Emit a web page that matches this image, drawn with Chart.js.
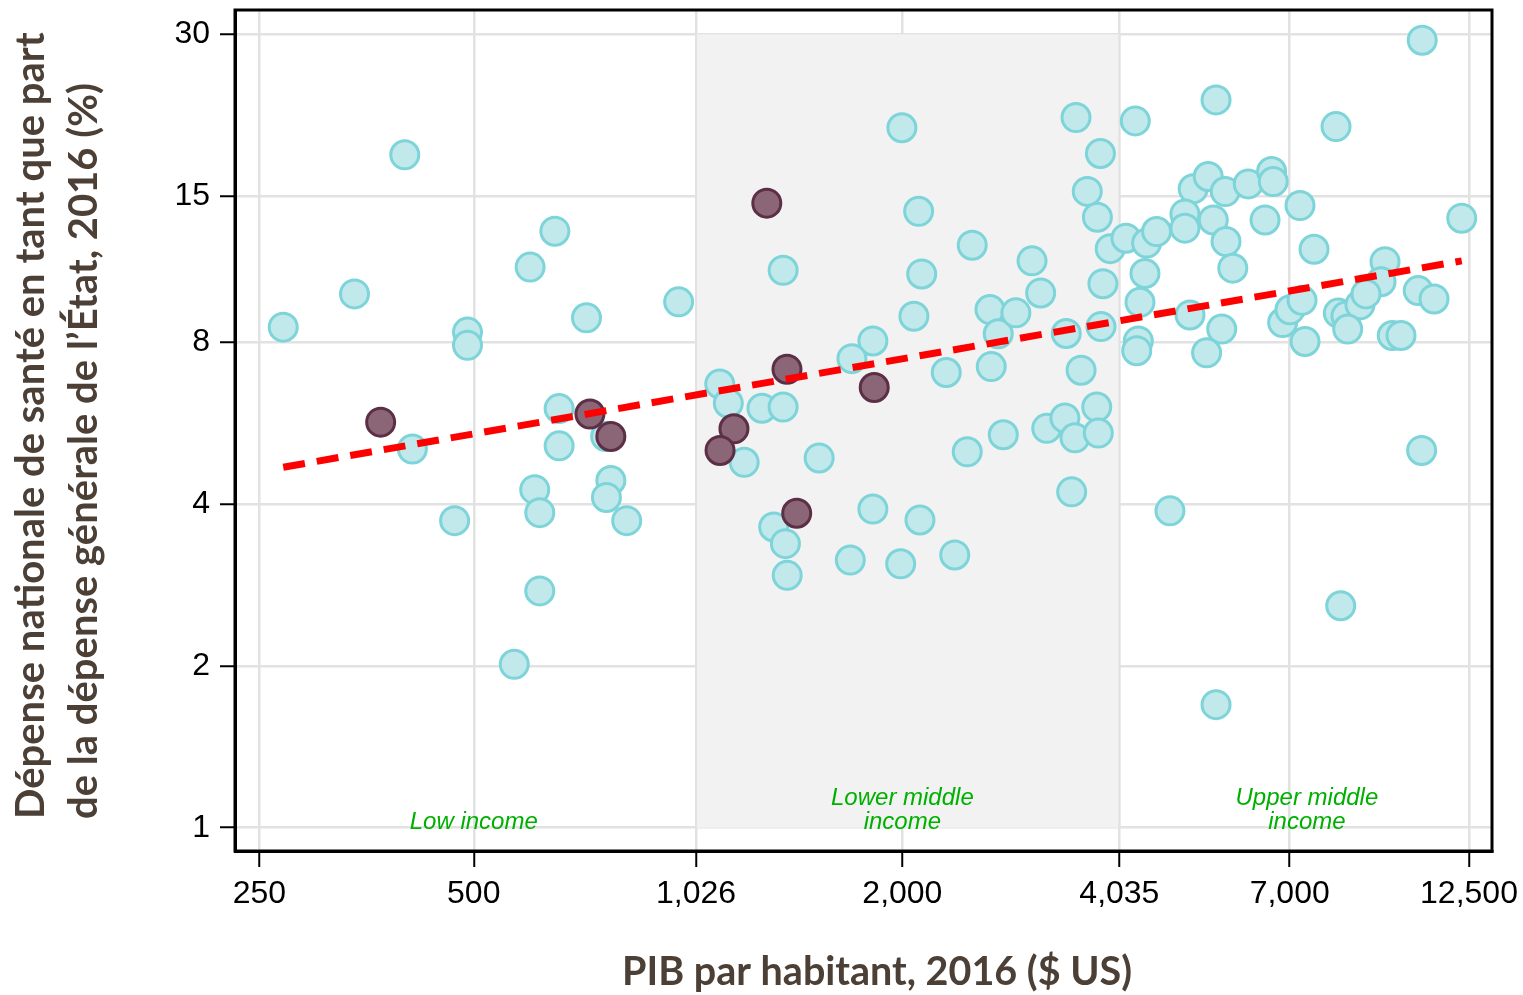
<!DOCTYPE html>
<html>
<head>
<meta charset="utf-8">
<script src="https://cdn.jsdelivr.net/npm/chart.js@4.4.1/dist/chart.umd.min.js"></script>
<style>
  html, body { margin: 0; padding: 0; background: #fff; }
</style>
</head>
<body>
<canvas id="myChart" width="1523" height="995"></canvas>
<script>
// GDP per capita (US$) and health share of government spending (%)
const cyanGdp = [270, 340, 400, 490, 490, 600, 650, 720, 970, 410, 659, 659, 766, 779, 768, 609, 619, 470, 820, 619, 570,
  1997, 2108, 2507, 1360, 2129, 2076, 2655, 2727, 2887, 1818, 1699, 2305, 2666, 1108, 1139, 1270, 1360, 1199, 1528, 2467,
  2772, 1319, 1370, 1378, 1818, 2117, 1690, 1989, 2369,
  3507, 4248, 3795, 3637, 3758, 3042, 3917, 4122, 4407, 4551, 4383, 3128, 3826, 4313, 3398, 3802, 4290, 4268, 3565, 3190,
  3383, 3495, 3750, 3769, 3458,
  5516, 5123, 5378, 5683, 6122, 6602, 6637, 7237, 4988, 4988, 5467, 6463, 5697, 5823, 5070, 5618, 5350, 6842, 7006, 7285,
  7355, 7573, 8131, 10745, 12210, 9527, 9405, 10607, 11164, 8191, 8397, 8786, 8958, 8444, 9754, 10033, 10725, 4752, 8255, 5516];
const cyanShare = [8.55, 9.86, 17.9, 8.37, 7.91, 11.06, 12.9, 8.9, 9.53, 5.07, 6.03, 5.14, 5.35, 4.43, 4.12, 4.26, 3.86, 3.73, 3.73, 2.76, 2.015,
  20.1, 14.05, 12.15, 10.91, 10.74, 8.96, 9.22, 8.31, 9.09, 8.06, 7.47, 7.04, 7.22, 6.70, 6.17, 6.04, 6.07, 4.79, 4.88, 5.01,
  5.39, 3.63, 3.38, 2.95, 3.92, 3.74, 3.15, 3.10, 3.22,
  21.0, 20.7, 18.0, 15.3, 13.7, 11.36, 11.97, 12.52, 12.26, 12.88, 10.76, 9.90, 10.30, 9.51, 8.32, 8.57, 8.06, 7.73, 7.11, 5.54,
  5.79, 5.32, 6.07, 5.43, 4.22,
  22.65, 15.47, 16.31, 15.29, 15.80, 16.66, 15.96, 14.40, 13.89, 13.07, 13.54, 13.54, 12.34, 11.01, 9.01, 8.48, 7.66, 8.72, 9.21, 9.59,
  8.04, 11.94, 20.2, 29.26, 13.64, 11.32, 10.39, 10.0, 9.65, 9.08, 8.97, 9.41, 9.86, 8.48, 8.25, 8.25, 5.04, 3.89, 2.59, 1.695];

const darkGdp = [370, 728, 779, 1290, 1377, 1826, 1160, 1109, 1421];
const darkShare = [5.69, 5.89, 5.35, 14.55, 7.14, 6.60, 5.53, 5.04, 3.85];

const trendGdp = [270, 12210];
const trendShare = [4.69, 11.36];

const xTicks = [250, 500, 1026, 2000, 4035, 7000, 12500];
const yTicks = [1, 2, 4, 8, 15, 30];

const bandFrom = 1026;
const bandTo = 4035;
const groupNames = [["Low income"], ["Lower middle", "income"], ["Upper middle", "income"]];
const groupAt = [500, 2000, 7400];

const xTitle = "PIB par habitant, 2016 ($ US)";
const yTitle = ["Dépense nationale de santé en tant que part", "de la dépense générale de l’État, 2016 (%)"];

const toPoints = (xs, ys) => xs.map((v, i) => ({ x: v, y: ys[i] }));

const bandPlugin = {
  id: "incomeBand",
  beforeDatasetsDraw(chart) {
    const { ctx, scales: { x, y } } = chart;
    const l = x.getPixelForValue(bandFrom), r = x.getPixelForValue(bandTo);
    const t = y.getPixelForValue(30), b = y.getPixelForValue(1);
    ctx.save();
    ctx.fillStyle = "#f2f2f2";
    ctx.fillRect(l, t, r - l, b - t);
    ctx.strokeStyle = "#e2e2e2";
    ctx.lineWidth = 2;
    ctx.beginPath();
    ctx.moveTo(l, t); ctx.lineTo(l, b);
    ctx.moveTo(r, t); ctx.lineTo(r, b);
    ctx.stroke();
    ctx.fillStyle = "#00b000";
    ctx.font = 'italic 24px "Liberation Sans"';
    ctx.textAlign = "center";
    ctx.textBaseline = "middle";
    groupNames.forEach((lines, i) => {
      const cx = x.getPixelForValue(groupAt[i]);
      lines.forEach((s, j) => {
        ctx.fillText(s, cx, b - 5 - (lines.length - 1 - j) * 24);
      });
    });
    ctx.restore();
  },
  afterDraw(chart) {
    const { ctx, chartArea: a } = chart;
    ctx.save();
    ctx.strokeStyle = "#000";
    ctx.lineWidth = 3;
    ctx.strokeRect(a.left, a.top, a.right - a.left, a.bottom - a.top);
    // axis titles
    ctx.fillStyle = "#4b3f36";
    ctx.font = 'bold 39.5px "Lato"';
    ctx.textAlign = "center";
    ctx.textBaseline = "middle";
    ctx.fillText(xTitle, 877, 972);
    ctx.font = 'bold 40px "Lato"';
    ctx.translate(31, 819);
    ctx.rotate(-Math.PI / 2);
    ctx.textAlign = "left";
    yTitle.forEach((s, i) => ctx.fillText(s, 0, i * 53));
    ctx.restore();
  }
};

new Chart(document.getElementById("myChart"), {
  type: "scatter",
  data: {
    datasets: [
      {
        data: toPoints(trendGdp, trendShare),
        showLine: true,
        borderColor: "#ff0000",
        borderWidth: 7,
        borderDash: [22, 12],
        pointRadius: 0,
        fill: false,
        order: 0
      },
      {
        data: toPoints(darkGdp, darkShare),
        backgroundColor: "#8a6677",
        borderColor: "#5c2f47",
        borderWidth: 3,
        pointRadius: 14,
        order: 1
      },
      {
        data: toPoints(cyanGdp, cyanShare),
        backgroundColor: "#c1e8ea",
        borderColor: "#7dd4d9",
        borderWidth: 3,
        pointRadius: 14,
        order: 2
      }
    ]
  },
  options: {
    responsive: false,
    animation: false,
    layout: { autoPadding: false, padding: { top: 10, right: 31, left: 0, bottom: 0 } },
    plugins: { legend: { display: false }, tooltip: { enabled: false } },
    scales: {
      x: {
        type: "logarithmic",
        min: 231,
        max: 13466,
        afterFit: (scale) => { scale.height = 144; scale.paddingLeft = 0; scale.paddingRight = 0; },
        afterBuildTicks: (scale) => { scale.ticks = xTicks.map(v => ({ value: v })); },
        border: { display: true, color: "#000", width: 3 },
        grid: { color: "#e2e2e2", lineWidth: 2.5, tickColor: "#000", tickLength: 16, tickWidth: 2 },
        ticks: {
          color: "#000",
          font: { family: "Liberation Sans", size: 32 },
          padding: 8,
          maxRotation: 0,
          autoSkip: false,
          callback: (v) => Number(v).toLocaleString("en-US")
        }
      },
      y: {
        type: "logarithmic",
        min: 0.905,
        max: 33.3,
        afterFit: (scale) => { scale.width = 235; scale.paddingTop = 0; scale.paddingBottom = 0; },
        afterBuildTicks: (scale) => { scale.ticks = yTicks.map(v => ({ value: v })); },
        border: { display: true, color: "#000", width: 3 },
        grid: { color: "#e2e2e2", lineWidth: 2.5, tickColor: "#000", tickLength: 15, tickWidth: 2 },
        ticks: {
          color: "#000",
          font: { family: "Liberation Sans", size: 32 },
          padding: 10,
          autoSkip: false,
          callback: (v) => Number(v).toLocaleString("en-US")
        }
      }
    }
  },
  plugins: [bandPlugin]
});
</script>
</body>
</html>
